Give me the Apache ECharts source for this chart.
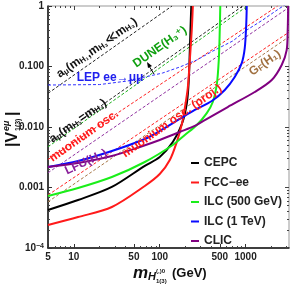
<!DOCTYPE html>
<html><head><meta charset="utf-8">
<script src="https://cdn.jsdelivr.net/npm/echarts@6/dist/echarts.min.js"></script>
<style>html,body{margin:0;padding:0;background:#fff}#c{width:294px;height:289px}</style>
</head><body><div id="c"></div>
<script>
// ---- tick labels ----
const xTickValues = [5, 10, 50, 100, 500, 1000];
const xMinorTicks = [6,7,8,9,20,30,40,60,70,80,90,200,300,400,600,700,800,900,2000,3000];
const yTickValues = [0.0001, 0.001, 0.01, 0.1, 1];
const yTickLabels = ['{b|10}{s|−4}', '0.001', '0.010', '0.100', '1'];
const yMinorTicks = [2e-4,3e-4,4e-4,5e-4,6e-4,7e-4,8e-4,9e-4,2e-3,3e-3,4e-3,5e-3,6e-3,7e-3,8e-3,9e-3,0.02,0.03,0.04,0.05,0.06,0.07,0.08,0.09,0.2,0.3,0.4,0.5,0.6,0.7,0.8,0.9];

// ---- solid sensitivity curves [mass GeV, |V|] ----
const cepc = [[5,4.25e-4],[11.2,6.2e-4],[27.7,1.02e-3],[67,2.28e-3],[100,3.19e-3],[142,5.65e-3],[181,1.12e-2],[207,2.49e-2],[218,6.0e-2],[224,0.187],[230,0.59],[233,1]];
const fccee = [[5,2.4e-4],[11.2,3.25e-4],[27.7,4.76e-4],[67,1.06e-3],[100,1.67e-3],[131,2.85e-3],[158,5.65e-3],[181,1.12e-2],[196,2.06e-2],[212,4.4e-2],[224,0.128],[236,0.40],[243,1]];
const ilc500 = [[5,7.24e-4],[11.2,9.8e-4],[27.7,1.49e-3],[67,2.64e-3],[142,5.04e-3],[196,7.37e-3],[270,1.08e-2],[353,1.7e-2],[415,2.59e-2],[461,4.94e-2],[487,0.128],[500,0.40],[507,1]];
const ilc1tev = [[5,2.18e-3],[11.2,2.74e-3],[27.7,4.01e-3],[67,6.34e-3],[100,8.59e-3],[171,1.36e-2],[256,1.91e-2],[404,2.69e-2],[572,4.09e-2],[747,6.7e-2],[901,0.114],[977,0.202],[1016,0.485],[1031,1]];
const clic = [[5,2.18e-3],[11.2,2.54e-3],[27.7,3.32e-3],[58.7,4.67e-3],[100,6.1e-3],[171,8.27e-3],[256,1.04e-2],[335,1.3e-2],[619,2.14e-2],[1277,3.79e-2],[2014,5.98e-2],[2630,0.106],[3006,0.187],[3090,0.40],[3130,1]];

// ---- dashed bound lines [mass GeV, |V|] ----
const amuUpper = [[5,0.036],[139,1]];
const amuEqual = [[5,0.0054],[926,1]];
const dune = [[5,0.0047],[1050,1]];
const muonium = [[5,0.0029],[2360,1]];
const lfu = [[5,0.00175],[3200,0.95]];
const muoniumProj = [[5,7.5e-4],[3200,0.37]];
const gf = [[5,5.8e-4],[3200,0.31]];
const lep = [[5,0.0494],[20,0.0503],[42.6,0.0577],[67,0.067],[108,0.078],[171,0.098],[270,0.128],[415,0.18],[708,0.264],[1031,0.40],[1581,0.587],[2330,0.86],[2860,1.04]];

const BOLD = 'bold';
const FF = '"Liberation Sans", "DejaVu Sans", Arial, sans-serif';

function solid(name, data, color) {
  return {name, type:'line', data, showSymbol:false, smooth:0.3,
    lineStyle:{color, width:2}, itemStyle:{color}, z:5, clip:true};
}
function dashed(data, color) {
  return {type:'line', data, showSymbol:false, silent:true,
    lineStyle:{color, width:1, type:[3,2]}, z:3, clip:true};
}
function label(text, x, y, rot, color, size) {
  return {type:'text', x, y, rotation: rot*Math.PI/180, z:20,
    style:{text, fill:color, font:`bold ${size||12}px ${FF}`, align:'center', verticalAlign:'middle',
      rich:{s:{fontSize:8, fontWeight:'bold', fontFamily:FF, fill:color, verticalAlign:'bottom', lineHeight:9}}}};
}
const X0 = {type:'log', logBase:10, min:5, max:3200, splitLine:{show:false}};
const Y0 = {type:'log', logBase:10, min:1e-4, max:1, splitLine:{show:false}};
function tickOnly(base, pos, vals, len) {
  return Object.assign({}, base, {position:pos, axisLine:{show:false}, axisLabel:{show:false},
    axisTick:{inside:true, length:len, customValues:vals, lineStyle:{color:'#444', width:1}}});
}

const chart = echarts.init(document.getElementById('c'), null, {renderer:'canvas'});
chart.setOption({
  animation:false,
  backgroundColor:'#fff',
  grid:{left:48, top:6, right:5, bottom:41, show:true, borderColor:'#999', borderWidth:1},
  xAxis:[
    Object.assign({}, X0, {position:'bottom',
      axisLine:{lineStyle:{color:'#111', width:1.5}},
      axisTick:{inside:true, length:4, lineStyle:{color:'#333'}, customValues:xTickValues},
      axisLabel:{customValues:xTickValues, margin:4, color:'#222', fontSize:10, fontWeight:BOLD, fontFamily:FF,
        formatter:v=>String(Math.round(v))}}),
    tickOnly(X0, 'bottom', xMinorTicks, 2),
    tickOnly(X0, 'top', xTickValues, 4),
    tickOnly(X0, 'top', xMinorTicks, 2)
  ],
  yAxis:[
    Object.assign({}, Y0, {position:'left',
      axisLine:{lineStyle:{color:'#111', width:1.5}},
      axisTick:{inside:true, length:4, lineStyle:{color:'#333'}},
      axisLabel:{margin:4, color:'#222', fontSize:10, fontWeight:BOLD, fontFamily:FF,
        formatter:v=>{const i=yTickValues.findIndex(t=>Math.abs(Math.log10(t)-Math.log10(v))<1e-6);return i>=0?yTickLabels[i]:'';},
        rich:{b:{fontSize:10,fontWeight:BOLD,fontFamily:FF,color:'#222'},s:{fontSize:7,fontWeight:BOLD,fontFamily:FF,color:'#222',verticalAlign:'top',lineHeight:7}}}}),
    tickOnly(Y0, 'left', yMinorTicks, 2),
    tickOnly(Y0, 'right', yTickValues, 4),
    tickOnly(Y0, 'right', yMinorTicks, 2)
  ],
  legend:{orient:'vertical', left:186, top:151, icon:'rect', itemWidth:8, itemHeight:2, itemGap:5.5,
    textStyle:{fontSize:12, fontWeight:BOLD, fontFamily:FF, color:'#222', lineHeight:14},
    data:['CEPC','FCC−ee','ILC (500 GeV)','ILC (1 TeV)','CLIC']},
  series:[
    dashed(amuUpper,'#222'), dashed(amuEqual,'#222'), dashed(dune,'#1cb01c'),
    dashed(muonium,'#ff2020'), dashed(lfu,'#9030a0'), dashed(muoniumProj,'#ff2020'), dashed(gf,'#a87848'),
    dashed(lep,'#3030ff'),
    solid('CEPC', cepc, '#000000'),
    solid('FCC−ee', fccee, '#ff1a1a'),
    solid('ILC (500 GeV)', ilc500, '#1aee1a'),
    solid('ILC (1 TeV)', ilc1tev, '#0a0aff'),
    solid('CLIC', clic, '#800080')
  ],
  graphic:[
    label('a{s|μ}(m{s|H₁},m{s|H₃}≪m{s|H₃})', 97, 48, 35, '#111', 12),
    label('LEP ee→μμ', 110, 78, 0, '#2020ee', 12),
    label('a{s|μ}(m{s|H₃}=m{s|H₃})', 78, 121, 35, '#111', 12),
    label('DUNE(H₃⁺)', 160, 47, 35, '#10a010', 12),
    label('muonium osc.', 84, 136, 35, '#ff1a1a', 12),
    label('LFU(H₁)', 86, 162, 25, '#8a209a', 12),
    label('muonium osc. (proj.)', 172, 121, 35, '#ff1a1a', 12),
    label('G{s|F}(H₁)', 265, 63, 35, '#a07040', 12),
    {type:'line', z:21, shape:{x1:154, y1:74, x2:149, y2:66}, style:{stroke:'#000', lineWidth:1}},
    {type:'polygon', z:21, shape:{points:[[147,62],[152,66],[148,68]]}, style:{fill:'#000'}},
    // y-axis title
    {type:'group', x:13, y:128, rotation:Math.PI/2, z:20, children:[
      {type:'text', x:-19, y:0, style:{text:'|V', font:`bold 16px ${FF}`, fill:'#111', align:'left', verticalAlign:'middle'}},
      {type:'text', x:-3, y:-6, style:{text:'eμ', font:`italic bold 9px ${FF}`, fill:'#111', align:'left', verticalAlign:'middle'}},
      {type:'text', x:-3, y:5, style:{text:'1(3)', font:`bold 7px ${FF}`, fill:'#111', align:'left', verticalAlign:'middle'}},
      {type:'text', x:12, y:0, style:{text:'|', font:`bold 16px ${FF}`, fill:'#111', align:'left', verticalAlign:'middle'}}
    ]},
    // x-axis title
    {type:'group', x:133, y:273, z:20, children:[
      {type:'text', x:0, y:0, style:{text:'m', font:`italic bold 17px ${FF}`, fill:'#111', align:'left', verticalAlign:'middle'}},
      {type:'text', x:15, y:4, style:{text:'H', font:`italic bold 11px ${FF}`, fill:'#111', align:'left', verticalAlign:'middle'}},
      {type:'text', x:23, y:-2, style:{text:'(,)0', font:`bold 6px ${FF}`, fill:'#111', align:'left', verticalAlign:'middle'}},
      {type:'text', x:23, y:8, style:{text:'1(3)', font:`bold 6px ${FF}`, fill:'#111', align:'left', verticalAlign:'middle'}},
      {type:'text', x:39, y:0, style:{text:'(GeV)', font:`bold 13px ${FF}`, fill:'#111', align:'left', verticalAlign:'middle'}}
    ]}
  ]
});
</script></body></html>
